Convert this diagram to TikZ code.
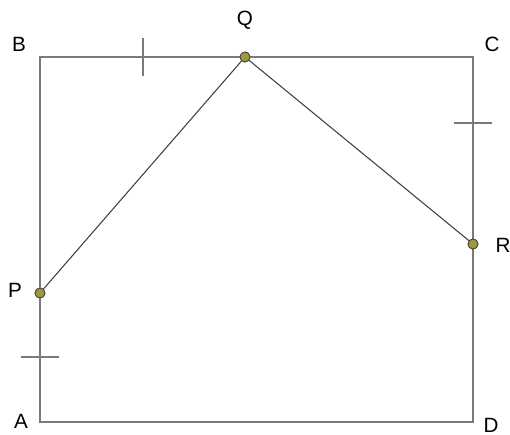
\documentclass[tikz,border=0pt]{standalone}
\usepackage{fontspec}
\setmainfont{Liberation Sans}
\usetikzlibrary{positioning}
\definecolor{framegray}{HTML}{7A7A7A}
\definecolor{linegray}{HTML}{404040}
\definecolor{dotolive}{HTML}{9C9A3C}

\begin{document}
\begin{tikzpicture}[
    x=0.75pt, y=-0.75pt,
    every node/.style={font=\fontsize{15.5}{18}\selectfont},
    frame/.style={draw=framegray, line width=1.1pt},
    seg/.style={draw=linegray, line width=0.8pt},
    tick/.style={draw=framegray, line width=1pt},
    pt/.style={circle, draw=linegray, fill=dotolive, line width=0.6pt, inner sep=0pt, minimum size=7.5pt}
]
\useasboundingbox (0,0) rectangle (510,435);

% corners and points
\coordinate (A) at (40,422);
\coordinate (B) at (40,57);
\coordinate (C) at (473,57);
\coordinate (D) at (473,422);
\node[pt] (Q) at (245,57) {};
\node[pt] (P) at (40,293) {};
\node[pt] (R) at (473,244) {};

% tick marks
\coordinate (tbc) at (143,57);
\coordinate (tcd) at (473,123);
\coordinate (tap) at (40,357);

% rectangle
\draw[frame] (A) -- (B) -- (C) -- (D) -- cycle;
\draw[tick] ([yshift=14]tbc) -- ([yshift=-14]tbc);
\draw[tick] ([xshift=-14]tcd) -- ([xshift=14]tcd);
\draw[tick] ([xshift=-14]tap) -- ([xshift=14]tap);

% segments
\draw[seg] (P) -- (Q) -- (R);
\node[pt] at (Q) {};
\node[pt] at (P) {};
\node[pt] at (R) {};

% labels
\node (labA) at (21,421) {A};
\node (labB) at (19,44) {B};
\node (labC) at (492,44) {C};
\node (labD) at (491,425) {D};
\node (labQ) at (245,20) {Q};
\node (labP) at (15,290) {P};
\node (labR) at (503,245) {R};
\end{tikzpicture}
\end{document}
